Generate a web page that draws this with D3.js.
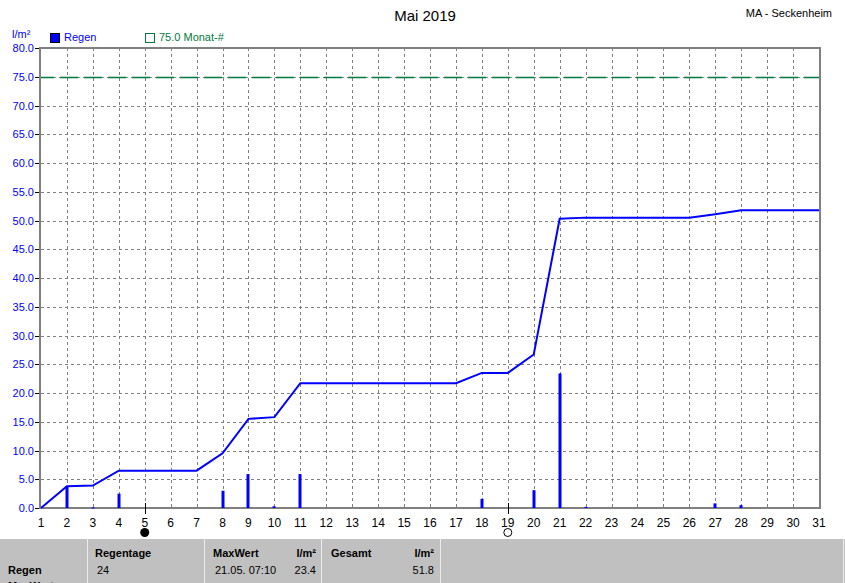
<!DOCTYPE html>
<html><head><meta charset="utf-8">
<script src="https://cdn.jsdelivr.net/npm/d3@7"></script>
<style>
html,body{margin:0;padding:0;background:#fff;}
svg{display:block;font-family:"Liberation Sans",Arial,sans-serif;}
</style></head>
<body>
<svg id="c" width="845" height="583"></svg>
<script>
const days = d3.range(1, 32);
const dailyRain = [0,3.8,0.1,2.5,0,0,0,3.0,5.9,0.3,5.9,0,0,0,0,0,0,1.6,0,3.1,23.4,0.2,0,0,0,0,0.8,0.5,0,0,0];
const cumulative = [0,3.8,3.9,6.5,6.5,6.5,6.5,9.5,15.5,15.8,21.7,21.7,21.7,21.7,21.7,21.7,21.7,23.5,23.5,26.7,50.3,50.5,50.5,50.5,50.5,50.5,51.1,51.8,51.8,51.8,51.8];
const yTicks = d3.range(0, 85, 5);
const monthRef = 75.0;
const newMoonDays = [5];
const fullMoonDays = [19];
const tableCols = [
  {x:95, head:"Regentage", val:"24"},
  {x:213, head:"MaxWert", val:"21.05.  07:10"},
  {x:331, head:"Gesamt", val:""}
];
const unitCols = [{x:316, head:"l/m²", val:"23.4"},{x:434, head:"l/m²", val:"51.8"}];
const separators = [87, 204, 321, 440, 843];

const svg = d3.select("#c");
const x = d3.scaleLinear().domain([1,31]).range([41,819]);
const y = d3.scaleLinear().domain([0,80]).range([508,48]);
const blue = "#0000ff", green = "#007a3d", gridC = "#808080";

// title
svg.append("text").attr("x",425).attr("y",21).attr("text-anchor","middle").attr("font-size",15).text("Mai 2019");
svg.append("text").attr("x",832).attr("y",17).attr("text-anchor","end").attr("font-size",11).text("MA - Seckenheim");

// legend
svg.append("text").attr("x",12).attr("y",38).attr("font-size",11).attr("fill",blue).text("l/m²");
svg.append("rect").attr("x",50.5).attr("y",33.5).attr("width",9).attr("height",9).attr("fill",blue).attr("stroke","#000");
svg.append("text").attr("x",64).attr("y",41).attr("font-size",11).attr("fill",blue).text("Regen");
svg.append("rect").attr("x",145.5).attr("y",33.5).attr("width",9).attr("height",9).attr("fill","none").attr("stroke",green);
svg.append("text").attr("x",159).attr("y",41).attr("font-size",11).attr("fill",green).text(monthRef.toFixed(1)+" Monat-#");

// grid
const g = svg.append("g");
g.selectAll(".vg").data(days.slice(1,-1)).join("line")
  .attr("x1",d=>Math.round(x(d))+0.5).attr("x2",d=>Math.round(x(d))+0.5)
  .attr("y1",y(80)).attr("y2",y(0)).attr("stroke",gridC).attr("stroke-dasharray","3,3");
g.selectAll(".hg").data(yTicks.filter(v=>v>0&&v<80)).join("line")
  .attr("x1",x(1)).attr("x2",x(31))
  .attr("y1",d=>Math.round(y(d))+0.5).attr("y2",d=>Math.round(y(d))+0.5)
  .attr("stroke",gridC).attr("stroke-dasharray","3,3");

// monthly reference line
svg.append("line").attr("x1",x(1)).attr("x2",x(31)).attr("y1",Math.round(y(monthRef))+0.5).attr("y2",Math.round(y(monthRef))+0.5)
  .attr("stroke",green).attr("stroke-width",1.5).attr("stroke-dasharray","18,6").attr("stroke-dashoffset",5);

// frame
svg.append("rect").attr("x",x(1)-1).attr("y",y(80)).attr("width",x(31)-x(1)+2).attr("height",y(0)-y(80))
  .attr("fill","none").attr("stroke",gridC).attr("stroke-width",2);

// y axis labels & ticks
svg.selectAll(".yl").data(yTicks).join("text")
  .attr("x",34).attr("y",d=>y(d)+4).attr("text-anchor","end").attr("font-size",11).attr("fill",blue)
  .text(d=>d.toFixed(1));
svg.selectAll(".yt").data(yTicks).join("line")
  .attr("x1",35).attr("x2",39).attr("y1",d=>Math.round(y(d))+0.5).attr("y2",d=>Math.round(y(d))+0.5).attr("stroke","#000");

// x labels
svg.selectAll(".xl").data(days).join("text")
  .attr("x",d=>x(d)).attr("y",527).attr("text-anchor","middle").attr("font-size",12).text(d=>d);

// bars
svg.selectAll(".bar").data(days.map((d,i)=>({d,v:dailyRain[i]})).filter(o=>o.v>0)).join("rect")
  .attr("x",o=>Math.round(x(o.d))-1.5).attr("width",3)
  .attr("y",o=>y(o.v)).attr("height",o=>Math.max(1,y(0)-y(o.v))).attr("fill",blue);

// cumulative line
svg.append("path").datum(days.map((d,i)=>[d,cumulative[i]]))
  .attr("d",d3.line().x(p=>x(p[0])).y(p=>y(p[1])))
  .attr("fill","none").attr("stroke",blue).attr("stroke-width",2);

// moon markers
newMoonDays.concat(fullMoonDays).forEach(d=>{
  svg.append("line").attr("x1",Math.round(x(d))+0.5).attr("x2",Math.round(x(d))+0.5).attr("y1",503).attr("y2",514).attr("stroke","#000");
});
newMoonDays.forEach(d=>svg.append("circle").attr("cx",x(d)).attr("cy",532.5).attr("r",4.5).attr("fill","#000"));
fullMoonDays.forEach(d=>svg.append("circle").attr("cx",x(d)).attr("cy",532.5).attr("r",4).attr("fill","none").attr("stroke","#000"));

// table
svg.append("rect").attr("x",0).attr("y",539).attr("width",845).attr("height",44).attr("fill","#c0c0c0");
separators.forEach(s=>svg.append("line").attr("x1",s+0.5).attr("x2",s+0.5).attr("y1",539).attr("y2",583).attr("stroke","#ececec"));
svg.append("text").attr("x",8).attr("y",574).attr("font-size",11).attr("font-weight","bold").text("Regen");
svg.append("text").attr("x",8).attr("y",590).attr("font-size",11).attr("font-weight","bold").text("MaxWert");
tableCols.forEach(c=>{
  svg.append("text").attr("x",c.x).attr("y",557).attr("font-size",11).attr("font-weight","bold").text(c.head);
  svg.append("text").attr("x",c.x+2).attr("y",574).attr("font-size",11).text(c.val);
});
unitCols.forEach(c=>{
  svg.append("text").attr("x",c.x).attr("y",557).attr("font-size",11).attr("font-weight","bold").attr("text-anchor","end").text(c.head);
  svg.append("text").attr("x",c.x).attr("y",574).attr("font-size",11).attr("text-anchor","end").text(c.val);
});
</script>
</body></html>
